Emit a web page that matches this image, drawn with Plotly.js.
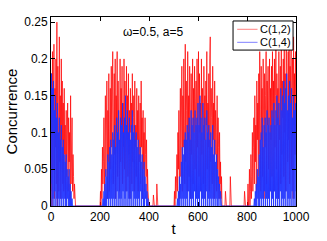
<!DOCTYPE html>
<html>
<head>
<meta charset="utf-8">
<script src="https://cdn.plot.ly/plotly-3.0.1.min.js"></script>
<style>html,body{margin:0;padding:0;background:#fff;}#chart{width:327px;height:241px;}</style>
</head>
<body>
<div id="chart"></div>
<script>
// time grid (step 2)
const t = [
0,2,4,6,8,10,12,14,16,18,20,22,24,26,28,30,32,34,36,38,40,42,44,46,48,
50,52,54,56,58,60,62,64,66,68,70,72,74,76,78,80,82,84,86,88,90,92,94,96,98,
100,102,104,106,108,110,112,114,116,118,120,122,124,126,128,130,132,134,136,138,140,142,144,146,148,
150,152,154,156,158,160,162,164,166,168,170,172,174,176,178,180,182,184,186,188,190,192,194,196,198,
200,202,204,206,208,210,212,214,216,218,220,222,224,226,228,230,232,234,236,238,240,242,244,246,248,
250,252,254,256,258,260,262,264,266,268,270,272,274,276,278,280,282,284,286,288,290,292,294,296,298,
300,302,304,306,308,310,312,314,316,318,320,322,324,326,328,330,332,334,336,338,340,342,344,346,348,
350,352,354,356,358,360,362,364,366,368,370,372,374,376,378,380,382,384,386,388,390,392,394,396,398,
400,402,404,406,408,410,412,414,416,418,420,422,424,426,428,430,432,434,436,438,440,442,444,446,448,
450,452,454,456,458,460,462,464,466,468,470,472,474,476,478,480,482,484,486,488,490,492,494,496,498,
500,502,504,506,508,510,512,514,516,518,520,522,524,526,528,530,532,534,536,538,540,542,544,546,548,
550,552,554,556,558,560,562,564,566,568,570,572,574,576,578,580,582,584,586,588,590,592,594,596,598,
600,602,604,606,608,610,612,614,616,618,620,622,624,626,628,630,632,634,636,638,640,642,644,646,648,
650,652,654,656,658,660,662,664,666,668,670,672,674,676,678,680,682,684,686,688,690,692,694,696,698,
700,702,704,706,708,710,712,714,716,718,720,722,724,726,728,730,732,734,736,738,740,742,744,746,748,
750,752,754,756,758,760,762,764,766,768,770,772,774,776,778,780,782,784,786,788,790,792,794,796,798,
800,802,804,806,808,810,812,814,816,818,820,822,824,826,828,830,832,834,836,838,840,842,844,846,848,
850,852,854,856,858,860,862,864,866,868,870,872,874,876,878,880,882,884,886,888,890,892,894,896,898,
900,902,904,906,908,910,912,914,916,918,920,922,924,926,928,930,932,934,936,938,940,942,944,946,948,
950,952,954,956,958,960,962,964,966,968,970,972,974,976,978,980,982,984,986,988,990,992,994,996,998,
1000];

// C(1,2)
const c12 = [
.02,.18,0,.21,.05,.12,.22,.01,.16,.08,.20,.03,.25,0,.19,.11,.02,.23,.06,.15,.01,.20,.09,.17,.03,
.14,.02,.16,.07,.11,.01,.13,.04,.09,.14,.02,.12,.06,.10,.01,.15,.03,.08,.12,.02,.07,.04,.01,.03,0,
0,0,0,0,0,0,0,0,0,0,0,0,0,0,0,0,0,0,0,0,0,0,0,0,0,
0,0,0,0,0,0,0,0,0,0,0,0,0,0,0,0,0,0,0,0,0,0,0,0,0,
0,.02,0,.05,.01,.08,.03,.06,.12,.02,.10,.15,.04,.09,.17,.01,.13,.06,.18,.02,.11,.16,.05,.19,.08,
.14,.21,.03,.12,.18,.07,.20,.01,.15,.10,.21,.04,.17,.09,.13,.02,.20,.06,.16,.11,.19,.03,.14,.08,.20,
.05,.17,.12,.02,.19,.09,.15,.04,.18,.07,.13,.01,.16,.10,.14,.03,.18,.06,.12,.15,.02,.17,.08,.11,.04,
.16,.09,.13,.02,.15,.06,.11,.14,.03,.17,.08,.12,.01,.13,.05,.10,.02,.12,.07,.04,.09,.01,.05,.02,0,
0,0,0,0,0,0,0,0,0,.015,0,0,0,0,0,0,.03,0,0,0,0,0,0,0,0,
0,0,0,0,0,0,0,0,0,0,0,0,0,0,0,0,0,0,0,0,0,0,0,0,0,
0,0,.02,0,.04,.01,.03,.07,.02,.10,.05,.13,.01,.09,.16,.04,.12,.19,.02,.15,.08,.20,.11,.03,.22,
.06,.17,.13,.02,.21,.09,.15,.04,.19,.11,.01,.18,.07,.14,.20,.03,.16,.10,.19,.05,.13,.17,.02,.20,.08,
.15,.21,.04,.18,.10,.14,.02,.20,.07,.16,.12,.03,.19,.09,.15,.01,.17,.11,.21,.05,.14,.08,.18,.02,.20,
.23,.06,.16,.12,.03,.19,.09,.14,.01,.17,.07,.13,.10,.02,.15,.05,.12,.08,.01,.10,.03,.06,.01,.04,0,
0,0,0,0,0,0,.02,0,0,0,0,0,0,0,0,0,.04,0,0,0,0,0,0,0,0,
0,0,0,0,0,0,0,0,0,0,0,0,0,0,0,0,0,0,0,0,.02,0,0,0,0,
0,0,.03,0,.01,.05,0,.02,.07,.01,.04,.10,.02,.08,.12,.03,.15,.06,.11,.02,.17,.09,.14,.04,.18,
.07,.21,.12,.02,.19,.09,.16,.04,.20,.13,.01,.18,.08,.15,.21,.03,.17,.11,.19,.05,.14,.20,.02,.16,.09,
.19,.04,.21,.12,.17,.02,.20,.08,.15,.22,.05,.18,.11,.16,.01,.21,.09,.14,.19,.03,.23,.07,.17,.12,.20,
.04,.22,.10,.18,.02,.24,.13,.17,.06,.21,.09,.25,.03,.19,.14,.22,.05,.16,.20,.01,.23,.11,.18,.07,.21,
.13];

// C(1,4)
const c14 = [
.03,.18,0,.16,.01,.17,0,.13,.02,.15,0,.12,.01,.14,0,.10,.01,.12,0,.09,.01,.11,0,.08,.01,
.09,0,.07,.01,.06,0,.07,0,.05,.01,.04,0,.05,0,.03,0,.02,0,.01,0,0,0,0,0,0,
0,0,0,0,0,0,0,0,0,0,0,0,0,0,0,0,0,0,0,0,0,0,0,0,0,
0,0,0,0,0,0,0,0,0,0,0,0,0,0,0,0,0,0,0,0,0,0,0,0,0,
0,0,0,0,0,0,.01,0,.02,0,.03,0,.05,0,.04,.01,.07,0,.06,.01,.08,0,.09,.01,.07,
0,.10,.01,.09,0,.11,.01,.08,0,.12,.02,.10,0,.13,.01,.09,0,.12,.01,.11,0,.14,.02,.10,0,
.12,.01,.15,0,.11,.02,.13,0,.10,.01,.12,0,.09,.01,.11,0,.13,.02,.10,0,.11,.01,.09,0,.10,
.01,.08,0,.09,.01,.07,0,.08,.02,.06,0,.07,.01,.05,0,.06,0,.04,.01,.03,0,.02,0,.01,0,
0,0,0,0,0,0,0,0,0,0,0,0,0,0,0,0,0,0,0,0,0,0,0,0,0,
0,0,0,0,0,0,0,0,0,0,0,0,0,0,0,0,0,0,0,0,0,0,0,0,0,
0,0,0,0,0,0,0,0,.01,0,.02,0,.04,0,.03,.01,.06,0,.08,.01,.07,0,.09,.01,.10,
0,.09,.01,.11,0,.10,.02,.12,0,.09,.01,.13,0,.11,.01,.12,0,.10,.02,.13,0,.11,.01,.12,0,
.14,.01,.11,0,.15,.02,.12,0,.10,.01,.14,0,.11,.01,.12,0,.09,.02,.13,0,.10,.01,.11,0,.09,
.01,.10,0,.08,.01,.11,0,.07,.01,.09,0,.06,.01,.07,0,.05,0,.04,.01,.03,0,.02,0,0,0,
0,0,0,0,0,0,0,0,0,0,0,0,0,0,0,0,0,0,0,0,0,0,0,0,0,
0,0,0,0,0,0,0,0,0,0,0,0,0,0,0,0,0,0,0,0,0,0,0,0,0,
0,0,0,0,0,0,0,0,0,0,0,0,0,0,0,.01,0,.02,0,.03,0,.05,.01,.04,0,
.07,0,.09,.01,.10,0,.12,.01,.08,0,.11,.02,.12,0,.10,.01,.13,0,.11,.01,.12,0,.10,.02,.11,
0,.13,.01,.12,0,.14,.02,.11,0,.13,.01,.15,0,.12,.01,.14,0,.11,.02,.16,0,.13,.01,.15,0,
.17,.01,.14,0,.16,.02,.18,0,.13,.01,.15,0,.17,.01,.14,0,.16,.02,.12,0,.15,.01,.13,0,.14,
.02];

const seriesNames = ['C(1,2)', 'C(1,4)'];
const xTicks = [0, 200, 400, 600, 800, 1000];
const yTicks = [0, 0.05, 0.1, 0.15, 0.2, 0.25];
const yTickText = ['0', '0.05', '0.1', '0.15', '0.2', '0.25'];

const font = 'Liberation Sans, Arial, sans-serif';
const redLine = 'rgba(255,0,0,0.72)';
const blueLine = 'rgba(30,50,255,0.85)';

const data = [
  {x: t, y: c12, name: seriesNames[0], type: 'scatter', mode: 'lines',
   line: {color: redLine, width: 1}},
  {x: t, y: c14, name: seriesNames[1], type: 'scatter', mode: 'lines',
   line: {color: blueLine, width: 1}}
];

const axisCommon = {
  showline: true, mirror: 'ticks', linecolor: '#000', linewidth: 1,
  ticks: 'inside', ticklen: 4, tickcolor: '#000', tickwidth: 1,
  showgrid: false, zeroline: false,
  tickfont: {family: font, size: 12, color: '#000'}
};

// compact MATLAB-style legend box (paper coordinates)
const lgX0 = 0.743, lgX1 = 0.988, lgY0 = 0.825, lgY1 = 0.979;
const rowY = [0.935, 0.866];
const legendColors = ['#ff8080', '#8080ff'];

const shapes = [
  {type: 'rect', xref: 'paper', yref: 'paper', x0: lgX0, x1: lgX1, y0: lgY0, y1: lgY1,
   fillcolor: '#fff', line: {color: '#000', width: 1}, layer: 'above'}
];
const annotations = [{
  text: 'ω=0.5, a=5', xref: 'paper', yref: 'paper', x: 0.415, y: 0.918,
  xanchor: 'center', yanchor: 'middle', showarrow: false,
  font: {family: font, size: 12, color: '#000'}
}];
seriesNames.forEach((nm, i) => {
  shapes.push({type: 'line', xref: 'paper', yref: 'paper', x0: 0.76, x1: 0.843,
    y0: rowY[i], y1: rowY[i], line: {color: legendColors[i], width: 1}, layer: 'above'});
  annotations.push({text: nm, xref: 'paper', yref: 'paper', x: 0.846, y: rowY[i],
    xanchor: 'left', yanchor: 'middle', showarrow: false,
    font: {family: font, size: 11, color: '#000'}});
});

const layout = {
  width: 327, height: 241,
  margin: {l: 51, r: 31, t: 17, b: 35},
  paper_bgcolor: '#fff', plot_bgcolor: '#fff',
  font: {family: font, color: '#000'},
  showlegend: false,
  xaxis: Object.assign({}, axisCommon, {
    range: [0, 1000], tickvals: xTicks, ticktext: xTicks.map(String),
    layer: 'below traces',
    title: {text: 't', font: {family: font, size: 15, color: '#000'}, standoff: 0}
  }),
  yaxis: Object.assign({}, axisCommon, {
    range: [0, 0.257], tickvals: yTicks, ticktext: yTickText,
    title: {text: 'Concurrence', font: {family: font, size: 15, color: '#000'}, standoff: 2}
  }),
  shapes: shapes,
  annotations: annotations
};

Plotly.newPlot('chart', data, layout, {displayModeBar: false, staticPlot: true});
</script>
</body>
</html>
